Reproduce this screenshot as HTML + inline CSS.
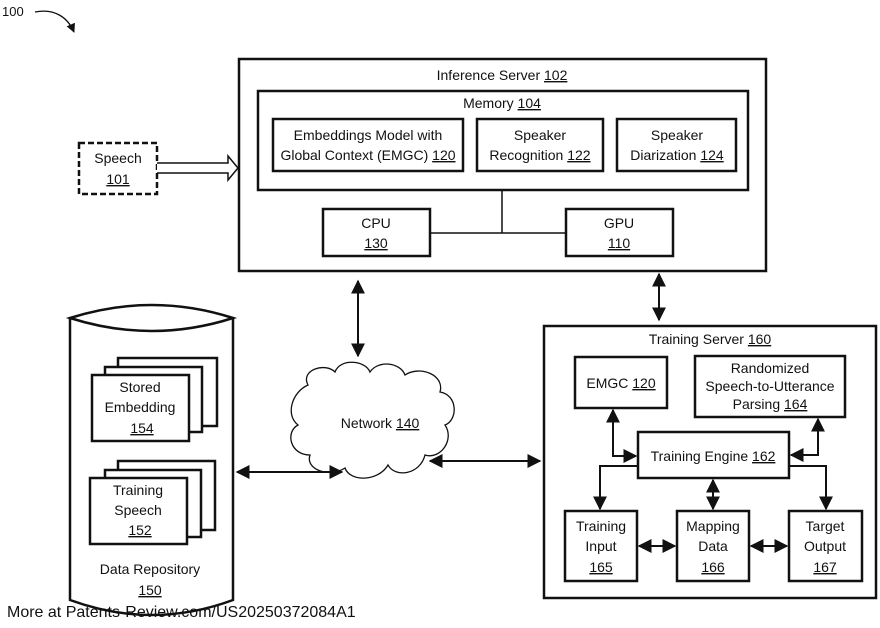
<!DOCTYPE html>
<html><head><style>body{margin:0;background:#fff}svg{display:block}text{font-family:"Liberation Sans",sans-serif;font-size:14px;fill:#111}</style></head><body>
<svg width="880" height="628" viewBox="0 0 880 628" xmlns="http://www.w3.org/2000/svg">
<defs><marker id="a" viewBox="0 0 10 10" refX="9" refY="5" markerWidth="7" markerHeight="7" orient="auto-start-reverse"><path d="M0,0L10,5L0,10z" fill="#111"/></marker></defs>
<g fill="none" stroke="#111">
<text x="2" y="16" style="font-size:13px;stroke:none">100</text>
<path d="M35,12 C55,8 68,18 74,32" stroke-width="1.3" marker-end="url(#a)"/>
<rect x="239" y="59" width="527" height="212" stroke-width="2.5"/>
<rect x="258" y="91" width="490" height="99" stroke-width="2.5"/>
<rect x="273" y="119" width="190" height="52" stroke-width="2.5"/>
<rect x="477" y="119" width="126" height="52" stroke-width="2.5"/>
<rect x="617" y="119" width="119" height="52" stroke-width="2.5"/>
<rect x="323" y="209" width="107" height="47" stroke-width="2.5"/>
<rect x="566" y="209" width="107" height="47" stroke-width="2.5"/>
<path d="M502,190V233M430,233H566" stroke-width="1.5"/>
<rect x="79" y="143" width="78" height="51" stroke-width="2.5" stroke-dasharray="6,3"/>
<path d="M157,163H228V156L238,168L228,180V173H157" stroke-width="1.5" fill="#fff"/>
<path d="M358,281V356" stroke-width="2" marker-start="url(#a)" marker-end="url(#a)"/>
<path d="M659,274V320" stroke-width="2" marker-start="url(#a)" marker-end="url(#a)"/>
<path d="M70,318V600Q152,630 233,600V318" stroke-width="2.5" fill="#fff"/>
<path d="M70,318Q152,292 233,318Q152,344 70,318Z" stroke-width="2.5" fill="#fff"/>
<rect x="118" y="358" width="99" height="68" stroke-width="2.5" fill="#fff"/>
<rect x="105" y="367" width="97" height="65" stroke-width="2.5" fill="#fff"/>
<rect x="92" y="375" width="97" height="66" stroke-width="2.5" fill="#fff"/>
<rect x="118" y="461" width="97" height="69" stroke-width="2.5" fill="#fff"/>
<rect x="105" y="470" width="96" height="67" stroke-width="2.5" fill="#fff"/>
<rect x="90" y="478" width="97" height="66" stroke-width="2.5" fill="#fff"/>
<path d="M308,385 C300,370 325,362 335,372 C340,358 365,360 370,372 C378,360 400,362 405,375 C420,365 445,375 440,392 C458,395 458,420 445,425 C455,440 440,460 425,455 C420,475 395,478 388,465 C378,482 350,482 345,468 C330,478 305,470 310,455 C290,455 285,432 298,425 C285,415 292,392 308,385Z" stroke-width="1.3" fill="#fff"/>
<path d="M237,472H342" stroke-width="2" marker-start="url(#a)" marker-end="url(#a)"/>
<path d="M430,461H540" stroke-width="2" marker-start="url(#a)" marker-end="url(#a)"/>
<rect x="544" y="326" width="332" height="272" stroke-width="2.5"/>
<rect x="575" y="357" width="92" height="51" stroke-width="2.5"/>
<rect x="695" y="356" width="150" height="61" stroke-width="2.5"/>
<rect x="638" y="432" width="151" height="46" stroke-width="2.5"/>
<rect x="565" y="511" width="72" height="70" stroke-width="2.5"/>
<rect x="677" y="511" width="72" height="70" stroke-width="2.5"/>
<rect x="789" y="511" width="73" height="70" stroke-width="2.5"/>
<path d="M613,410V456H636" stroke-width="2" marker-start="url(#a)" marker-end="url(#a)"/>
<path d="M818,419V455H791" stroke-width="2" marker-start="url(#a)" marker-end="url(#a)"/>
<path d="M638,466H600V509" stroke-width="2" marker-end="url(#a)"/>
<path d="M789,466H826V509" stroke-width="2" marker-end="url(#a)"/>
<path d="M713,480V509" stroke-width="2" marker-start="url(#a)" marker-end="url(#a)"/>
<path d="M639,546H675" stroke-width="2" marker-start="url(#a)" marker-end="url(#a)"/>
<path d="M751,546H787" stroke-width="2" marker-start="url(#a)" marker-end="url(#a)"/>
</g>
<g text-anchor="middle">
<text x="502" y="80">Inference Server <tspan text-decoration="underline">102</tspan></text>
<text x="502" y="108">Memory  <tspan text-decoration="underline">104</tspan></text>
<text x="368" y="140">Embeddings Model with</text>
<text x="368" y="160">Global Context (EMGC) <tspan text-decoration="underline">120</tspan></text>
<text x="540" y="140">Speaker</text>
<text x="540" y="160">Recognition <tspan text-decoration="underline">122</tspan></text>
<text x="677" y="140">Speaker</text>
<text x="677" y="160">Diarization <tspan text-decoration="underline">124</tspan></text>
<text x="376" y="228">CPU</text><text x="376" y="248" text-decoration="underline">130</text>
<text x="619" y="228">GPU</text><text x="619" y="248" text-decoration="underline">110</text>
<text x="118" y="163">Speech</text><text x="118" y="184" text-decoration="underline">101</text>
<text x="140" y="392">Stored</text><text x="140" y="412">Embedding</text><text x="142" y="433" text-decoration="underline">154</text>
<text x="138" y="495">Training</text><text x="138" y="515">Speech</text><text x="140" y="535" text-decoration="underline">152</text>
<text x="150" y="574">Data Repository</text><text x="150" y="595" text-decoration="underline">150</text>
<text x="380" y="428">Network <tspan text-decoration="underline">140</tspan></text>
<text x="710" y="344">Training Server <tspan text-decoration="underline">160</tspan></text>
<text x="621" y="388">EMGC <tspan text-decoration="underline">120</tspan></text>
<text x="770" y="373">Randomized</text><text x="770" y="391">Speech-to-Utterance</text><text x="770" y="409">Parsing <tspan text-decoration="underline">164</tspan></text>
<text x="713" y="461">Training Engine  <tspan text-decoration="underline">162</tspan></text>
<text x="601" y="531">Training</text><text x="601" y="551">Input</text><text x="601" y="572" text-decoration="underline">165</text>
<text x="713" y="531">Mapping</text><text x="713" y="551">Data</text><text x="713" y="572" text-decoration="underline">166</text>
<text x="825" y="531">Target</text><text x="825" y="551">Output</text><text x="825" y="572" text-decoration="underline">167</text>
</g>
<text x="7" y="617" style="font-size:16px">More at Patents-Review.com/US20250372084A1</text>
</svg>
</body></html>
